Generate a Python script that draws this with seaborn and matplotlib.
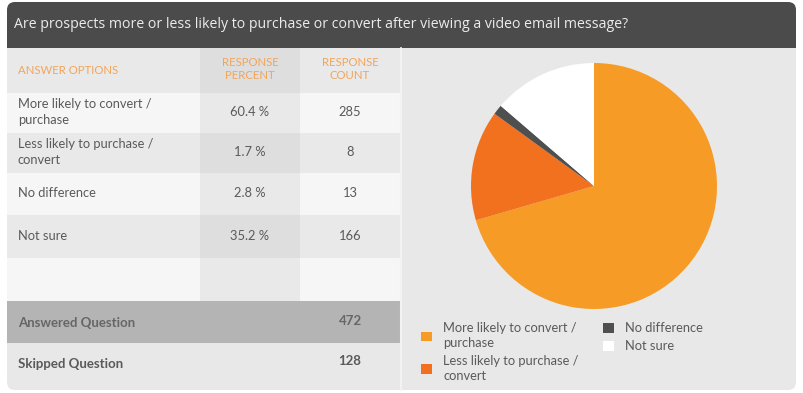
import matplotlib
matplotlib.use('Agg')
import matplotlib.pyplot as plt
from matplotlib.patches import FancyBboxPatch, Rectangle
import seaborn as sns

# --- dane ---
title = "Are prospects more or less likely to purchase or convert after viewing a video email message?"
options = ["More likely to convert /\npurchase", "Less likely to purchase /\nconvert",
           "No difference", "Not sure"]
percents = [60.4, 1.7, 2.8, 35.2]
counts = [285, 8, 13, 166]
answered = 472
skipped = 128
# udziały odczytane z wykresu kołowego (nie pokrywają się z tabelą)
pie_shares = [70.5, 14.5, 1.3, 13.7]
pie_colors = ["#f69b26", "#f1711f", "#4f4f4f", "#ffffff"]

sns.set_theme(style="white")
plt.rcParams['font.family'] = ['Lato', 'DejaVu Sans']

W, H = 804, 393
fig = plt.figure(figsize=(W / 100, H / 100), dpi=100)
fig.patch.set_facecolor('white')
ax = fig.add_axes([0, 0, 1, 1])
ax.set_xlim(0, W)
ax.set_ylim(H, 0)
ax.axis('off')

L, R, T, B = 7, 796, 2, 390


def rect(x0, y0, x1, y1, color, z=1):
    ax.add_patch(Rectangle((x0, y0), x1 - x0, y1 - y0, facecolor=color, edgecolor='none', zorder=z))


# karta i pasek tytułu
ax.add_patch(FancyBboxPatch((L, T), R - L, B - T, boxstyle="round,pad=0,rounding_size=8",
                            facecolor="#e8e8e8", edgecolor='none', zorder=0))
ax.add_patch(FancyBboxPatch((L, T), R - L, 46, boxstyle="round,pad=0,rounding_size=8",
                            facecolor="#4b4b4b", edgecolor='none', zorder=1))
rect(L, 30, R, 48, "#4b4b4b")
ax.text(14, 25, title, color="#ececec", fontsize=10.2, va='center', ha='left',
        family=['Open Sans', 'DejaVu Sans'], zorder=3)

# tabela
c1, c2, c3 = 200, 300, 400
rows_y = [93, 133, 173, 215, 258, 301]
rect(L, 48, c3, 93, "#e9e9e9")
rect(c1, 48, c2, 93, "#dedede")
for i in range(5):
    y0, y1 = rows_y[i], rows_y[i + 1]
    light = i % 2 == 0
    rect(L, y0, c3, y1, "#f6f6f6" if light else "#e9e9e9")
    rect(c1, y0, c2, y1, "#e9e9e9" if light else "#dedede")
rect(L, 301, c3, 343, "#b4b4b4")
ax.plot([401, 401], [48, B], color="#f3f3f3", lw=1.5, zorder=2)

hdr = dict(color="#f0a55c", fontsize=8.2, va='center', zorder=3)
ax.text(18, 70, "ANSWER OPTIONS", ha='left', **hdr)
ax.text(250, 69, "RESPONSE\nPERCENT", ha='center', linespacing=1.2, **hdr)
ax.text(350, 69, "RESPONSE\nCOUNT", ha='center', linespacing=1.2, **hdr)

body = dict(color="#5a5a5a", fontsize=9.3, va='center', zorder=3)
for i, (opt, pct, cnt) in enumerate(zip(options, percents, counts)):
    yc = (rows_y[i] + rows_y[i + 1]) / 2 - 1
    ax.text(18, yc, opt, ha='left', linespacing=1.35, **body)
    ax.text(250, yc, f"{pct:.1f} %", ha='center', **body)
    ax.text(350, yc, f"{cnt}", ha='center', **body)

bold = dict(fontsize=9.5, va='center', fontweight='bold', zorder=3)
ax.text(18, 323, "Answered Question", ha='left', color="#666666", **bold)
ax.text(350, 321, f"{answered}", ha='center', color="#666666", **bold)
ax.text(18, 364, "Skipped Question", ha='left', color="#5a5a5a", **bold)
ax.text(350, 361, f"{skipped}", ha='center', color="#5a5a5a", **bold)

# wykres kołowy
cx, cy, r = 594, 186, 123
pax = fig.add_axes([(cx - r) / W, (H - cy - r) / H, 2 * r / W, 2 * r / H])
wedges, _ = pax.pie(pie_shares, colors=sns.color_palette(pie_colors), startangle=90,
                    counterclock=False, radius=1, wedgeprops=dict(linewidth=0))
pax.set_xlim(-1, 1)
pax.set_ylim(-1, 1)
pax.set_aspect('equal')
pax.axis('off')

leg_labels = ["More likely to convert /\npurchase", "Less likely to purchase /\nconvert",
              "No difference", "Not sure"]
leg_kw = dict(loc='upper left', frameon=False, fontsize=9.3, labelcolor="#5a5a5a",
              handlelength=0.8, handleheight=0.8, handletextpad=0.9,
              labelspacing=0.45, borderpad=0)
legends = [
    fig.legend(wedges[:2], leg_labels[:2], bbox_to_anchor=(415 / W, 1 - 316 / H), **leg_kw),
    fig.legend(wedges[2:], leg_labels[2:], bbox_to_anchor=(597 / W, 1 - 316 / H), **leg_kw),
]
for leg in legends:
    for t in leg.get_texts():
        t.set_linespacing(1.3)
    for h in leg.legend_handles:
        h.set_edgecolor('none')

fig.savefig("out.png", dpi=100, facecolor='white')
